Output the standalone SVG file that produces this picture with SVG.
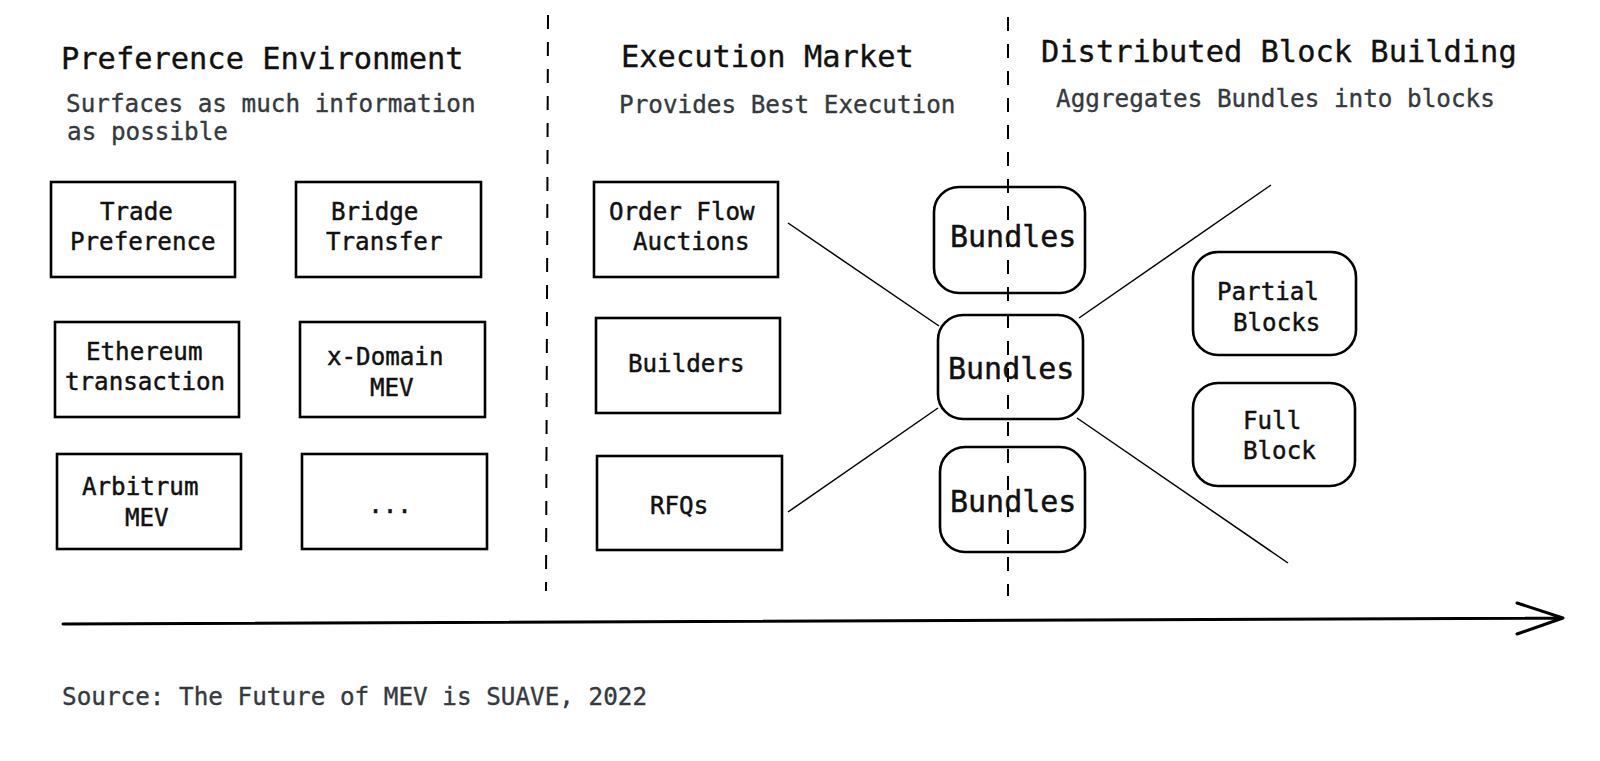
<svg xmlns="http://www.w3.org/2000/svg" width="1600" height="761" viewBox="0 0 1600 761">
<style>
text{font-family:"DejaVu Sans Mono","Liberation Mono",monospace;}
.title{font-size:30.4px;fill:#111;stroke:#111;stroke-width:0.35;}
.sub{font-size:24.3px;fill:#343a40;stroke:#343a40;stroke-width:0.35;}
.lbl{font-size:24.2px;fill:#111;stroke:#111;stroke-width:0.45;}
.big{font-size:30px;fill:#111;stroke:#111;stroke-width:0.45;}
.box{fill:none;stroke:#000;stroke-width:2.6;}
.rbox{fill:none;stroke:#000;stroke-width:2.6;}
.conn{stroke:#000;stroke-width:1.5;fill:none;}
.dash{stroke:#000;stroke-width:2;stroke-dasharray:14 13;fill:none;}
</style>
<rect width="1600" height="761" fill="#fff"/>
<g id="dividers">
<line class="dash" x1="548" y1="15" x2="546" y2="591"/>
<line class="dash" x1="1008" y1="17" x2="1008" y2="596"/>
</g>
<g id="headers">
<text class="title" x="61" y="69">Preference Environment</text>
<text class="sub" x="66" y="112">Surfaces as much information</text>
<text class="sub" x="67" y="140">as possible</text>
<text class="title" x="621" y="67">Execution Market</text>
<text class="sub" x="619" y="113">Provides Best Execution</text>
<text class="title" x="1041" y="62">Distributed Block Building</text>
<text class="sub" x="1056" y="107">Aggregates Bundles into blocks</text>
</g>
<g id="trade-preference">
<rect class="box" x="51" y="182" width="184" height="95"/>
<text class="lbl" x="100" y="220">Trade</text>
<text class="lbl" x="70" y="250">Preference</text>
</g>
<g id="bridge-transfer">
<rect class="box" x="296" y="182" width="185" height="95"/>
<text class="lbl" x="331" y="220">Bridge</text>
<text class="lbl" x="326" y="250">Transfer</text>
</g>
<g id="ethereum-transaction">
<rect class="box" x="55" y="322" width="184" height="95"/>
<text class="lbl" x="86" y="360">Ethereum</text>
<text class="lbl" x="65" y="390">transaction</text>
</g>
<g id="x-domain-mev">
<rect class="box" x="300" y="322" width="185" height="95"/>
<text class="lbl" x="327" y="365">x-Domain</text>
<text class="lbl" x="370" y="396">MEV</text>
</g>
<g id="arbitrum-mev">
<rect class="box" x="57" y="454" width="184" height="95"/>
<text class="lbl" x="82" y="495">Arbitrum</text>
<text class="lbl" x="125" y="526">MEV</text>
</g>
<g id="more">
<rect class="box" x="302" y="454" width="185" height="95"/>
<text class="lbl" x="390" y="513" text-anchor="middle">...</text>
</g>
<g id="order-flow-auctions">
<rect class="box" x="594" y="182" width="184" height="95"/>
<text class="lbl" x="609" y="220">Order Flow</text>
<text class="lbl" x="633" y="250">Auctions</text>
</g>
<g id="builders">
<rect class="box" x="596" y="318" width="184" height="95"/>
<text class="lbl" x="628" y="372">Builders</text>
</g>
<g id="rfqs">
<rect class="box" x="597" y="456" width="185" height="94"/>
<text class="lbl" x="650" y="514">RFQs</text>
</g>
<g id="bundles-1">
<rect class="rbox" x="934" y="187" width="151" height="106" rx="25"/>
<text class="big" x="950" y="247">Bundles</text>
</g>
<g id="bundles-2">
<rect class="rbox" x="938" y="315" width="145" height="104" rx="25"/>
<text class="big" x="948" y="379">Bundles</text>
</g>
<g id="bundles-3">
<rect class="rbox" x="940" y="447" width="145" height="105" rx="25"/>
<text class="big" x="950" y="512">Bundles</text>
</g>
<g id="partial-blocks">
<rect class="rbox" x="1193" y="252" width="163" height="103" rx="25"/>
<text class="lbl" x="1217" y="300">Partial</text>
<text class="lbl" x="1233" y="331">Blocks</text>
</g>
<g id="full-block">
<rect class="rbox" x="1193" y="383" width="162" height="103" rx="25"/>
<text class="lbl" x="1243" y="429">Full</text>
<text class="lbl" x="1243" y="459">Block</text>
</g>
<g id="connectors">
<line class="conn" x1="788" y1="223" x2="939" y2="326"/>
<line class="conn" x1="788" y1="512" x2="938" y2="408"/>
<line class="conn" x1="1079" y1="318" x2="1271" y2="185"/>
<line class="conn" x1="1077" y1="418" x2="1288" y2="563"/>
<path d="M63 624 L1563 618 M1517 603 L1563 618 L1517 634" fill="none" stroke="#000" stroke-width="3" stroke-linecap="round" stroke-linejoin="round"/>
</g>
<g id="footer">
<text class="sub" x="62" y="705">Source: The Future of MEV is SUAVE, 2022</text>
</g>
</svg>
